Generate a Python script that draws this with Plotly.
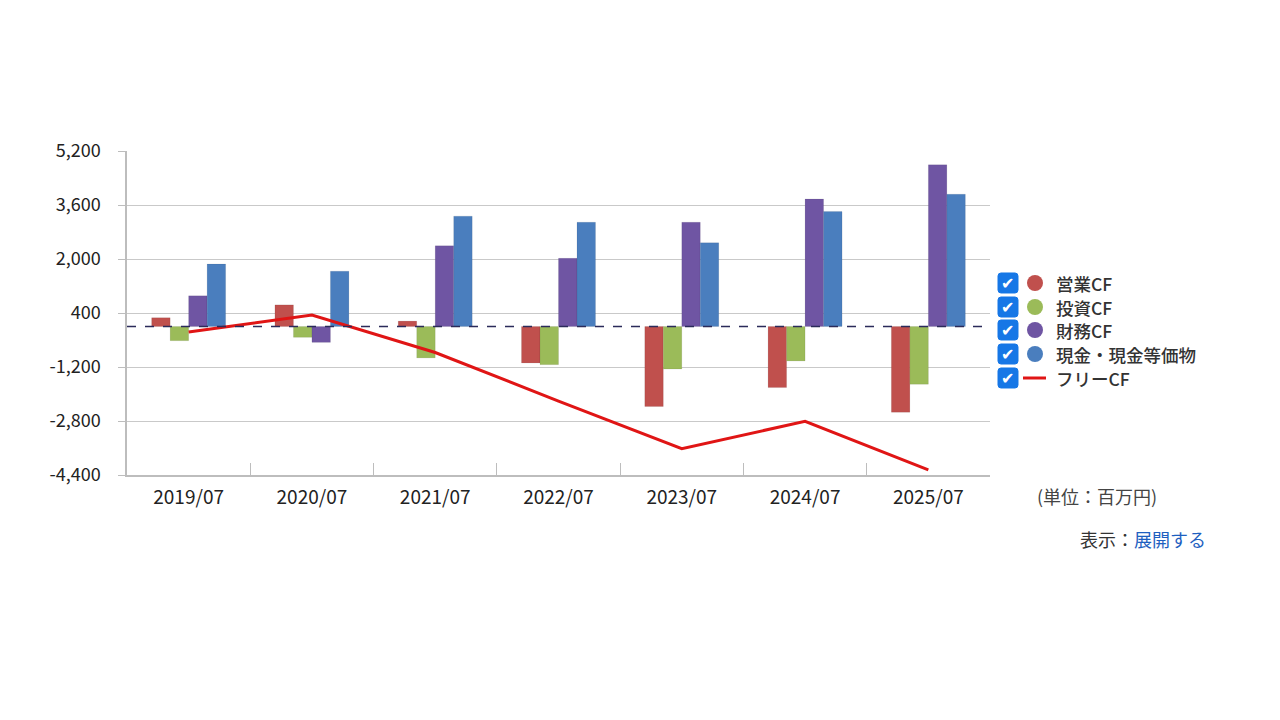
import plotly.graph_objects as go

categories = ["2019/07", "2020/07", "2021/07", "2022/07", "2023/07", "2024/07", "2025/07"]
operating_cf = [260, 640, 160, -1080, -2370, -1810, -2540]
investing_cf = [-420, -320, -930, -1130, -1260, -1020, -1710]
financing_cf = [910, -470, 2390, 2020, 3090, 3780, 4790]
cash_equiv = [1850, 1640, 3270, 3090, 2480, 3410, 3920]
free_cf = [-160, 340, -770, -2210, -3620, -2810, -4250]

series_names = ["営業CF", "投資CF", "財務CF", "現金・現金等価物"]
series_colors = ["#C0504D", "#9BBB59", "#6F55A3", "#4A7EBE"]
fcf_name = "フリーCF"
fcf_color = "#E01515"
y_ticks = [-4400, -2800, -1200, 400, 2000, 3600, 5200]
y_tick_labels = [f"{v:,}" for v in y_ticks]

FONT = "Noto Sans CJK JP, Noto Sans, sans-serif"

OX, OY = 8, 8
L, R, T, B = 127, 990, 151, 475
W, H = 1280, 720

def px(x):
    return (x - L) / (R - L)

def py(y):
    return (B - y) / (B - T)

def rounded_rect(x0, y0, x1, y1, r):
    # pixel coords -> paper path
    pts = []
    def P(x, y):
        return f"{px(x):.5f},{py(y):.5f}"
    return (f"M {P(x0 + r, y0)} L {P(x1 - r, y0)} Q {P(x1, y0)} {P(x1, y0 + r)} "
            f"L {P(x1, y1 - r)} Q {P(x1, y1)} {P(x1 - r, y1)} L {P(x0 + r, y1)} "
            f"Q {P(x0, y1)} {P(x0, y1 - r)} L {P(x0, y0 + r)} Q {P(x0, y0)} {P(x0 + r, y0)} Z")

fig = go.Figure()
for name, vals, col in zip(series_names, [operating_cf, investing_cf, financing_cf, cash_equiv], series_colors):
    fig.add_trace(go.Bar(x=categories, y=vals, name=name,
                         marker=dict(color=col, line=dict(color="rgba(0,0,0,0.15)", width=0.5)),
                         showlegend=False))
fig.add_trace(go.Scatter(x=categories, y=free_cf, name=fcf_name, mode="lines",
                         line=dict(color=fcf_color, width=3), showlegend=False))

shapes = [
    dict(type="line", xref="paper", yref="y", x0=0, x1=1, y0=0, y1=0,
         line=dict(color="#2B2B5A", width=1.3, dash="dash"), layer="above"),
]
annotations = []

legend_rows = [283, 307, 330, 354, 378]
for i, yy in enumerate(legend_rows):
    shapes.append(dict(type="path", xref="paper", yref="paper",
                       path=rounded_rect(998, yy - 10, 1018, yy + 10, 3),
                       fillcolor="#1677E6", line=dict(color="#1677E6", width=1)))
    annotations.append(dict(xref="paper", yref="paper", x=px(1008), y=py(yy), text="✔",
                            showarrow=False, font=dict(color="white", size=16, family="DejaVu Sans"),
                            xanchor="center", yanchor="middle"))
    if i < 4:
        shapes.append(dict(type="circle", xref="paper", yref="paper",
                           x0=px(1027), x1=px(1043), y0=py(yy + 8), y1=py(yy - 8),
                           fillcolor=series_colors[i], line=dict(width=0)))
        label = series_names[i]
    else:
        shapes.append(dict(type="line", xref="paper", yref="paper",
                           x0=px(1023), x1=px(1046), y0=py(yy), y1=py(yy),
                           line=dict(color=fcf_color, width=3)))
        label = fcf_name
    annotations.append(dict(xref="paper", yref="paper", x=px(1054), y=py(yy), text=label,
                            showarrow=False,
                            font=dict(color="#333333", size=17.5, family=FONT, weight=500),
                            xanchor="left", yanchor="middle"))

annotations.append(dict(xref="paper", yref="paper", x=px(1035), y=py(496), text="(単位：百万円)",
                        showarrow=False, font=dict(color="#444444", size=18, family=FONT),
                        xanchor="left", yanchor="middle"))
annotations.append(dict(xref="paper", yref="paper", x=px(1078), y=py(539),
                        text="表示：<span style='color:#1E5FC0'>展開する</span>",
                        showarrow=False, font=dict(color="#333333", size=18, family=FONT),
                        xanchor="left", yanchor="middle"))

fig.update_layout(
    width=W, height=H,
    margin=dict(l=L - OX, r=W - R + OX, t=T - OY, b=H - B + OY),
    paper_bgcolor="white", plot_bgcolor="white",
    barmode="group", bargap=0.4, bargroupgap=0,
    shapes=shapes, annotations=annotations,
    font=dict(family=FONT, color="#333333", size=18),
)
fig.update_xaxes(type="category", showgrid=False, showline=True, linecolor="#BDBDBD", linewidth=1.5,
                 ticks="inside", tickson="boundaries", ticklen=12, tickcolor="#BDBDBD", tickwidth=1.2,
                 tickfont=dict(size=19, color="#222222"), ticklabelstandoff=4)
fig.update_yaxes(range=[-4400, 5200], tickvals=y_ticks, ticktext=y_tick_labels, showgrid=True,
                 gridcolor="#C9C9C9", gridwidth=1.3, zeroline=False, showline=True,
                 linecolor="#BDBDBD", linewidth=1.5, ticks="outside", ticklen=7, tickcolor="#BDBDBD",
                 tickfont=dict(size=18, color="#222222"), ticklabelstandoff=14)

fig.write_html("out.html")
